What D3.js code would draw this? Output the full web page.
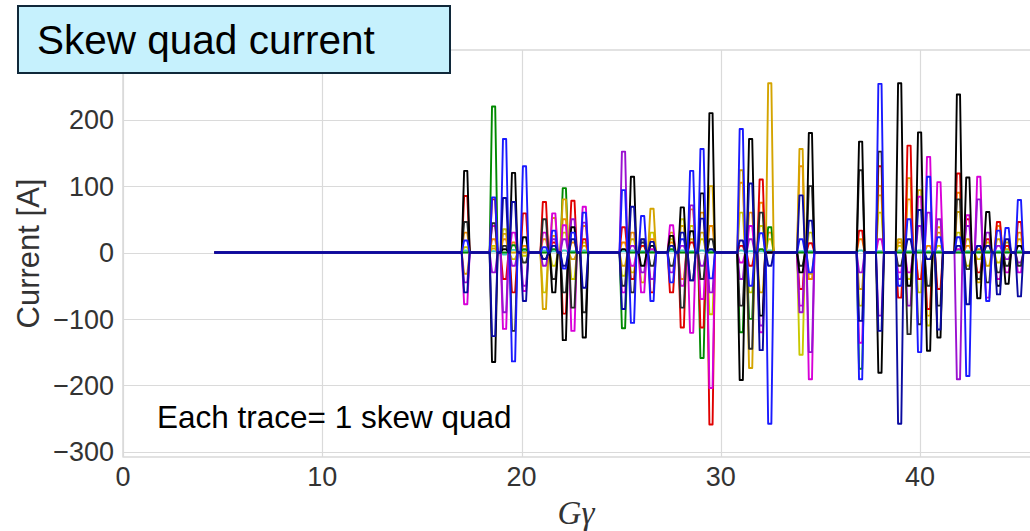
<!DOCTYPE html>
<html>
<head>
<meta charset="utf-8">
<script src="https://cdn.jsdelivr.net/npm/d3@7.9.0/dist/d3.min.js"></script>
<style>
  html, body { margin: 0; padding: 0; background: #fff; }
  svg { display: block; font-family: "Liberation Sans", Arial, sans-serif; }
</style>
</head>
<body>
<svg id="chart" width="1030" height="531"></svg>
<script>
// Gγ at which the skew quads are fired
const gg = [17.20, 18.60, 19.15, 19.60, 20.15, 21.15, 21.62, 22.15, 22.58, 23.15,
            25.12, 25.57, 26.08, 26.55, 27.53, 28.07, 28.54, 29.06, 29.51, 31.03,
            31.50, 32.03, 32.46, 34.03, 34.50, 37.02, 37.99, 38.98, 39.45, 39.98,
            40.43, 40.95, 41.93, 42.40, 42.95, 43.40, 43.94, 44.37, 44.99];

// current [A] of each skew quad at those Gγ
const quadK  = [123, -165, 5, 120, 23, -10, -60, -132, 38, -128, 5, 114, -20, 10, 25, 68, 32, 89, 210, -192, 171, -95, 0, -30, 180, 167, -181, 255, -50, 181, -148, -128, 238, 113, -69, 61, -50, -47, 10];
const quadR  = [85, 80, -40, -60, 59, 76, 15, -92, 78, 20, 38, -40, 10, -60, -60, -113, 15, -113, -259, 10, -20, 110, 0, -55, 14, 33, 130, -68, 161, -40, -85, -55, 119, 50, -30, 20, 46, 10, 46];
const quadB  = [18, 83, 171, -164, 130, 8, 33, -24, 30, 60, 94, -106, 55, -73, -45, 20, 123, 156, -39, 186, -50, 29, -258, 20, -30, -191, 254, -50, 50, -150, 114, 23, 23, -186, 10, -73, 33, 37, 79];
const quadG  = [0, 220, 0, 11, 5, 0, 5, 97, 0, 0, -114, 0, 0, 0, 5, 0, 0, -159, 0, -120, -100, 5, 38, 0, 0, -175, 0, 0, 0, 0, 0, 0, 0, 0, 0, 0, 0, 0, 0];
const quadY  = [-32, 6, 28, 0, 0, -85, 52, 80, -10, 10, -20, 20, -45, 66, 30, 40, 20, 30, 100, 124, -174, -60, 255, 156, -32, -55, 86, 20, 112, 94, -95, 38, 61, 20, -45, -20, 20, 15, 20];
const quadM  = [-78, 40, -115, 30, -58, 30, 59, 41, -118, 69, -60, -20, -60, 5, 41, -50, -121, -70, -204, -15, 40, -120, 0, -80, -191, -136, 20, -30, -30, 84, 144, 106, 5, 56, 114, -68, -40, -30, -30];
const quadK2 = [46, 44, 10, -118, -15, 50, -40, -60, -83, -90, -50, -60, 15, -20, -20, -83, -42, -40, 20, -80, -145, 60, 0, -20, 100, 124, 152, -20, -123, -108, -50, -80, 80, -25, -40, -45, -30, -20, -20];
const quadO  = [30, 20, 20, 15, 10, 20, 25, 50, 15, 40, 15, 30, 10, 20, 15, -40, 65, 60, 40, 105, 60, 75, 30, 130, -40, 20, 100, 15, 80, -40, 10, 30, 90, 10, 5, 10, 40, 10, 30];
const quadP  = [-45, -30, -90, -20, -50, -20, 20, 20, 50, 45, 152, 10, -30, -40, -30, 10, 71, -20, -60, -40, 20, -110, 0, -90, -150, -30, -95, -40, -80, 40, 60, 50, -191, 40, 80, 30, 10, -10, -15];
const quadY2 = [8, 10, 35, -10, -5, -60, -20, 30, -40, 15, -35, -30, 20, 30, 20, 50, 40, 20, -93, 60, -60, 40, 20, -154, 30, -80, 60, 10, -40, -60, -110, 10, 30, -20, -10, 15, -15, 5, 10];
const quadC  = [3, 2, -3, 4, 2, 3, 2, 3, 2, 3, 2, 3, 2, 2, 2, 3, 2, 3, 2, 3, 2, 2, 3, 2, 2, 3, 2, 3, 2, 3, 2, 2, 3, 2, 2, 2, 2, 2, 2];
const quadN  = [-60, -126, 82, 76, -73, -10, 10, -20, 20, -53, -85, 69, 20, 16, 10, 30, -42, 51, 5, 18, 104, -147, -20, 86, 48, -103, -118, -258, 20, 64, -10, -116, 10, -78, 10, 10, -63, 20, -66];

const quads = [
  { values: quadC,  color: '#3cc8c8' },
  { values: quadY2, color: '#c8c800' },
  { values: quadO,  color: '#f08a00' },
  { values: quadG,  color: '#008a00' },
  { values: quadY,  color: '#d4a400' },
  { values: quadR,  color: '#e00000' },
  { values: quadM,  color: '#d800d8' },
  { values: quadP,  color: '#9a10d0' },
  { values: quadK2, color: '#2a2a2a' },
  { values: quadK,  color: '#000000' },
  { values: quadB,  color: '#1a1aff' },
  { values: quadN,  color: '#0a0aa0' }
];

const ggStart = 4.62, ggEnd = 46.3;
const yTicks = [-300, -200, -100, 0, 100, 200];
const xTicks = [0, 10, 20, 30, 40];

const plot = { left: 123, right: 1040, top: 50, bottom: 457 };

const svg = d3.select('#chart');

const x = d3.scaleLinear().domain([0, (plot.right - plot.left) / 19.925]).range([plot.left, plot.right]);
const y = d3.scaleLinear().domain([-308, 305]).range([plot.bottom, plot.top]);

// frame + grid
svg.append('rect')
  .attr('x', plot.left).attr('y', plot.top)
  .attr('width', plot.right - plot.left).attr('height', plot.bottom - plot.top)
  .attr('fill', '#fff').attr('stroke', '#cfcfcf').attr('stroke-width', 1.2);

svg.append('g')
  .selectAll('line')
  .data(yTicks)
  .join('line')
    .attr('x1', plot.left).attr('x2', plot.right)
    .attr('y1', d => Math.round(y(d)) + 0.5).attr('y2', d => Math.round(y(d)) + 0.5)
    .attr('stroke', '#dadada').attr('stroke-width', 1.2);

svg.append('g')
  .selectAll('line')
  .data(xTicks)
  .join('line')
    .attr('x1', d => Math.round(x(d)) + 0.5).attr('x2', d => Math.round(x(d)) + 0.5)
    .attr('y1', plot.top).attr('y2', plot.bottom)
    .attr('stroke', '#dadada').attr('stroke-width', 1.2);

// tick labels
const fmt = d => (d < 0 ? '\u2212' + Math.abs(d) : String(d));
svg.append('g')
  .selectAll('text')
  .data(yTicks)
  .join('text')
    .attr('x', 114).attr('y', d => y(d))
    .attr('dy', '0.36em')
    .attr('text-anchor', 'end')
    .attr('font-size', 27).attr('fill', '#333')
    .text(fmt);

svg.append('g')
  .selectAll('text')
  .data(xTicks)
  .join('text')
    .attr('x', d => x(d)).attr('y', 486)
    .attr('text-anchor', 'middle')
    .attr('font-size', 27).attr('fill', '#333')
    .text(fmt);

// axis titles
svg.append('text')
  .attr('transform', `translate(39,${(plot.top + plot.bottom) / 2}) rotate(-90)`)
  .attr('text-anchor', 'middle')
  .attr('font-size', 31).attr('fill', '#333')
  .text('Current [A]');

svg.append('text')
  .attr('x', 576).attr('y', 524)
  .attr('text-anchor', 'middle')
  .attr('font-family', '"Liberation Serif", "DejaVu Serif", serif')
  .attr('font-style', 'italic')
  .attr('font-size', 33).attr('fill', '#333')
  .text('G\u03b3');

// traces
svg.append('clipPath').attr('id', 'clip')
  .append('rect')
  .attr('x', plot.left).attr('y', plot.top)
  .attr('width', plot.right - plot.left).attr('height', plot.bottom - plot.top);

const w0 = 0.2, w1 = 0.08;
function tracePoints(values) {
  const pts = [[ggStart, 0]];
  gg.forEach((c, i) => {
    pts.push([c - w0, 0], [c - w1, values[i]], [c + w1, values[i]], [c + w0, 0]);
  });
  pts.push([ggEnd, 0]);
  return pts;
}

const line = d3.line().x(d => x(d[0])).y(d => y(d[1]));

svg.append('g')
  .attr('clip-path', 'url(#clip)')
  .selectAll('path')
  .data(quads)
  .join('path')
    .attr('d', d => line(tracePoints(d.values)))
    .attr('fill', 'none')
    .attr('stroke', d => d.color)
    .attr('stroke-width', 1.9)
    .attr('stroke-linejoin', 'round')
    .attr('stroke-linecap', 'round');

// annotations
svg.append('text')
  .attr('x', 157).attr('y', 428)
  .attr('font-size', 31.5).attr('fill', '#000')
  .text('Each trace= 1 skew quad');

svg.append('rect')
  .attr('x', 18).attr('y', 6)
  .attr('width', 432).attr('height', 67)
  .attr('fill', '#c6f1fd')
  .attr('stroke', '#10283a').attr('stroke-width', 2);

svg.append('text')
  .attr('x', 37).attr('y', 54)
  .attr('font-size', 40.5).attr('fill', '#000')
  .text('Skew quad current');
</script>
</body>
</html>
